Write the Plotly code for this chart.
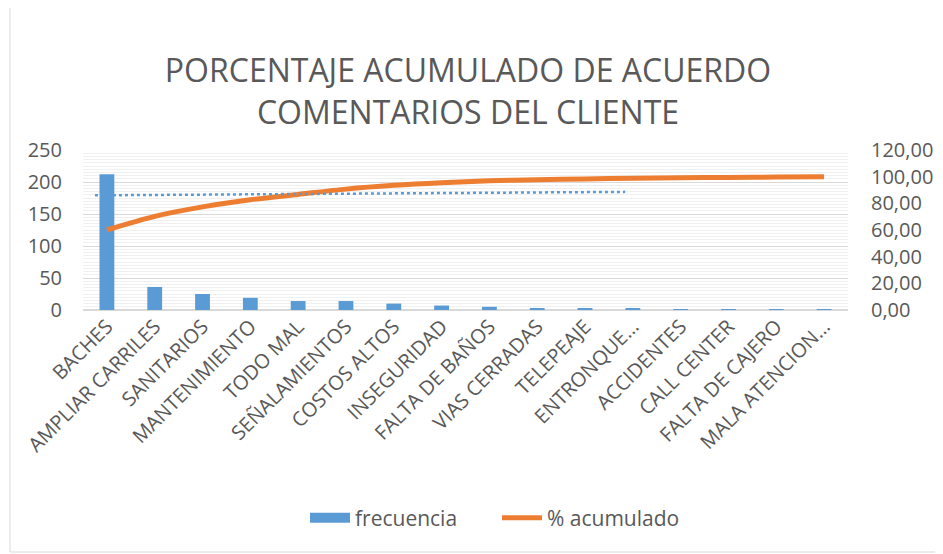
import plotly.graph_objects as go

categorias = ["BACHES", "AMPLIAR CARRILES", "SANITARIOS", "MANTENIMIENTO", "TODO MAL",
              "SEÑALAMIENTOS", "COSTOS ALTOS", "INSEGURIDAD", "FALTA DE BAÑOS",
              "VIAS CERRADAS", "TELEPEAJE", "ENTRONQUE…", "ACCIDENTES", "CALL CENTER",
              "FALTA DE CAJERO", "MALA ATENCION…"]
frecuencia = [212, 36, 25, 19, 14, 14, 10, 7, 5, 3, 2, 2, 1, 1, 1, 1]
total = sum(frecuencia)
acumulado = []
s = 0
for f in frecuencia:
    s += f
    acumulado.append(s / total * 100)

# dotted trend line (position in category units, value on right axis)
tendencia_pos = [-0.25, 10.84]
tendencia_valor = [86.0, 88.6]

idx = list(range(len(categorias)))
FONT = "Open Sans"
GREY = "#595959"
BLUE = "#5B9BD5"
ORANGE = "#ED7D31"

# page body has an 8px margin: figure is offset by (8, 8) in the window
W, H = 935, 546
PL, PR, PT, PB = 75, 840, 142, 302   # plot area in figure px

fig = go.Figure()
fig.add_trace(go.Bar(x=idx, y=frecuencia, name="frecuencia", marker_color=BLUE,
                     marker_line_width=0, showlegend=False, legendrank=1))
# legend swatch for the bars (wide rectangle like the original)
fig.add_trace(go.Scatter(x=[None], y=[None], name="frecuencia", mode="lines",
                         line=dict(color=BLUE, width=13), legendrank=1))
fig.add_trace(go.Scatter(x=idx, y=acumulado, name="% acumulado", yaxis="y2",
                         mode="lines", legendrank=2,
                         line=dict(color=ORANGE, width=5, shape="spline", smoothing=0.8)))
fig.add_trace(go.Scatter(x=tendencia_pos, y=tendencia_valor, yaxis="y2", mode="lines",
                         showlegend=False,
                         line=dict(color=BLUE, width=2.5, dash="dot")))

pw, ph = PR - PL, PB - PT
fig.update_layout(
    width=W, height=H,
    margin=dict(l=PL, r=W - PR, t=PT, b=H - PB, autoexpand=False),
    paper_bgcolor="white", plot_bgcolor="white",
    separators=", ",
    font=dict(family=FONT, color=GREY, size=20),
    title=dict(text="PORCENTAJE ACUMULADO DE ACUERDO<br>COMENTARIOS DEL CLIENTE",
               font=dict(family=FONT, size=32, color=GREY),
               x=(468 - 8) / W, xanchor="center", xref="container",
               y=1 - 74 / H, yanchor="middle", yref="container"),
    bargap=0.69,
    xaxis=dict(tickmode="array", tickvals=idx, ticktext=categorias, tickangle=-45,
               range=[-0.5, len(categorias) - 0.5], showgrid=False, zeroline=False,
               showline=False, ticks="", tickfont=dict(size=20, color=GREY)),
    yaxis=dict(range=[0, 250], dtick=50, showgrid=True, gridcolor="#d9d9d9", gridwidth=1,
               zeroline=True, zerolinecolor="#d9d9d9", zerolinewidth=1.5,
               minor=dict(dtick=5, showgrid=True, gridcolor="#f0f0f0", gridwidth=1),
               ticks="", ticklabelstandoff=20, tickfont=dict(size=20, color=GREY)),
    yaxis2=dict(range=[0, 120], dtick=20, overlaying="y", side="right", showgrid=False,
                zeroline=False, tickformat=".2f", ticks="", ticklabelstandoff=22,
                tickfont=dict(size=20, color=GREY)),
    legend=dict(orientation="h", x=(497 - 8 - PL) / pw, xanchor="center",
                y=(PB - 510) / ph, yanchor="middle",
                entrywidth=137, entrywidthmode="pixels",
                font=dict(size=21, color=GREY), itemwidth=40),
    shapes=[dict(type="rect", xref="paper", yref="paper",
                 x0=(2 - PL) / pw, x1=(932 - PL) / pw,
                 y0=(PB - 544) / ph, y1=(PB + 10) / ph,
                 line=dict(color="#d9d9d9", width=1), fillcolor="rgba(0,0,0,0)",
                 layer="below")],
)

fig.write_html("out.html")
